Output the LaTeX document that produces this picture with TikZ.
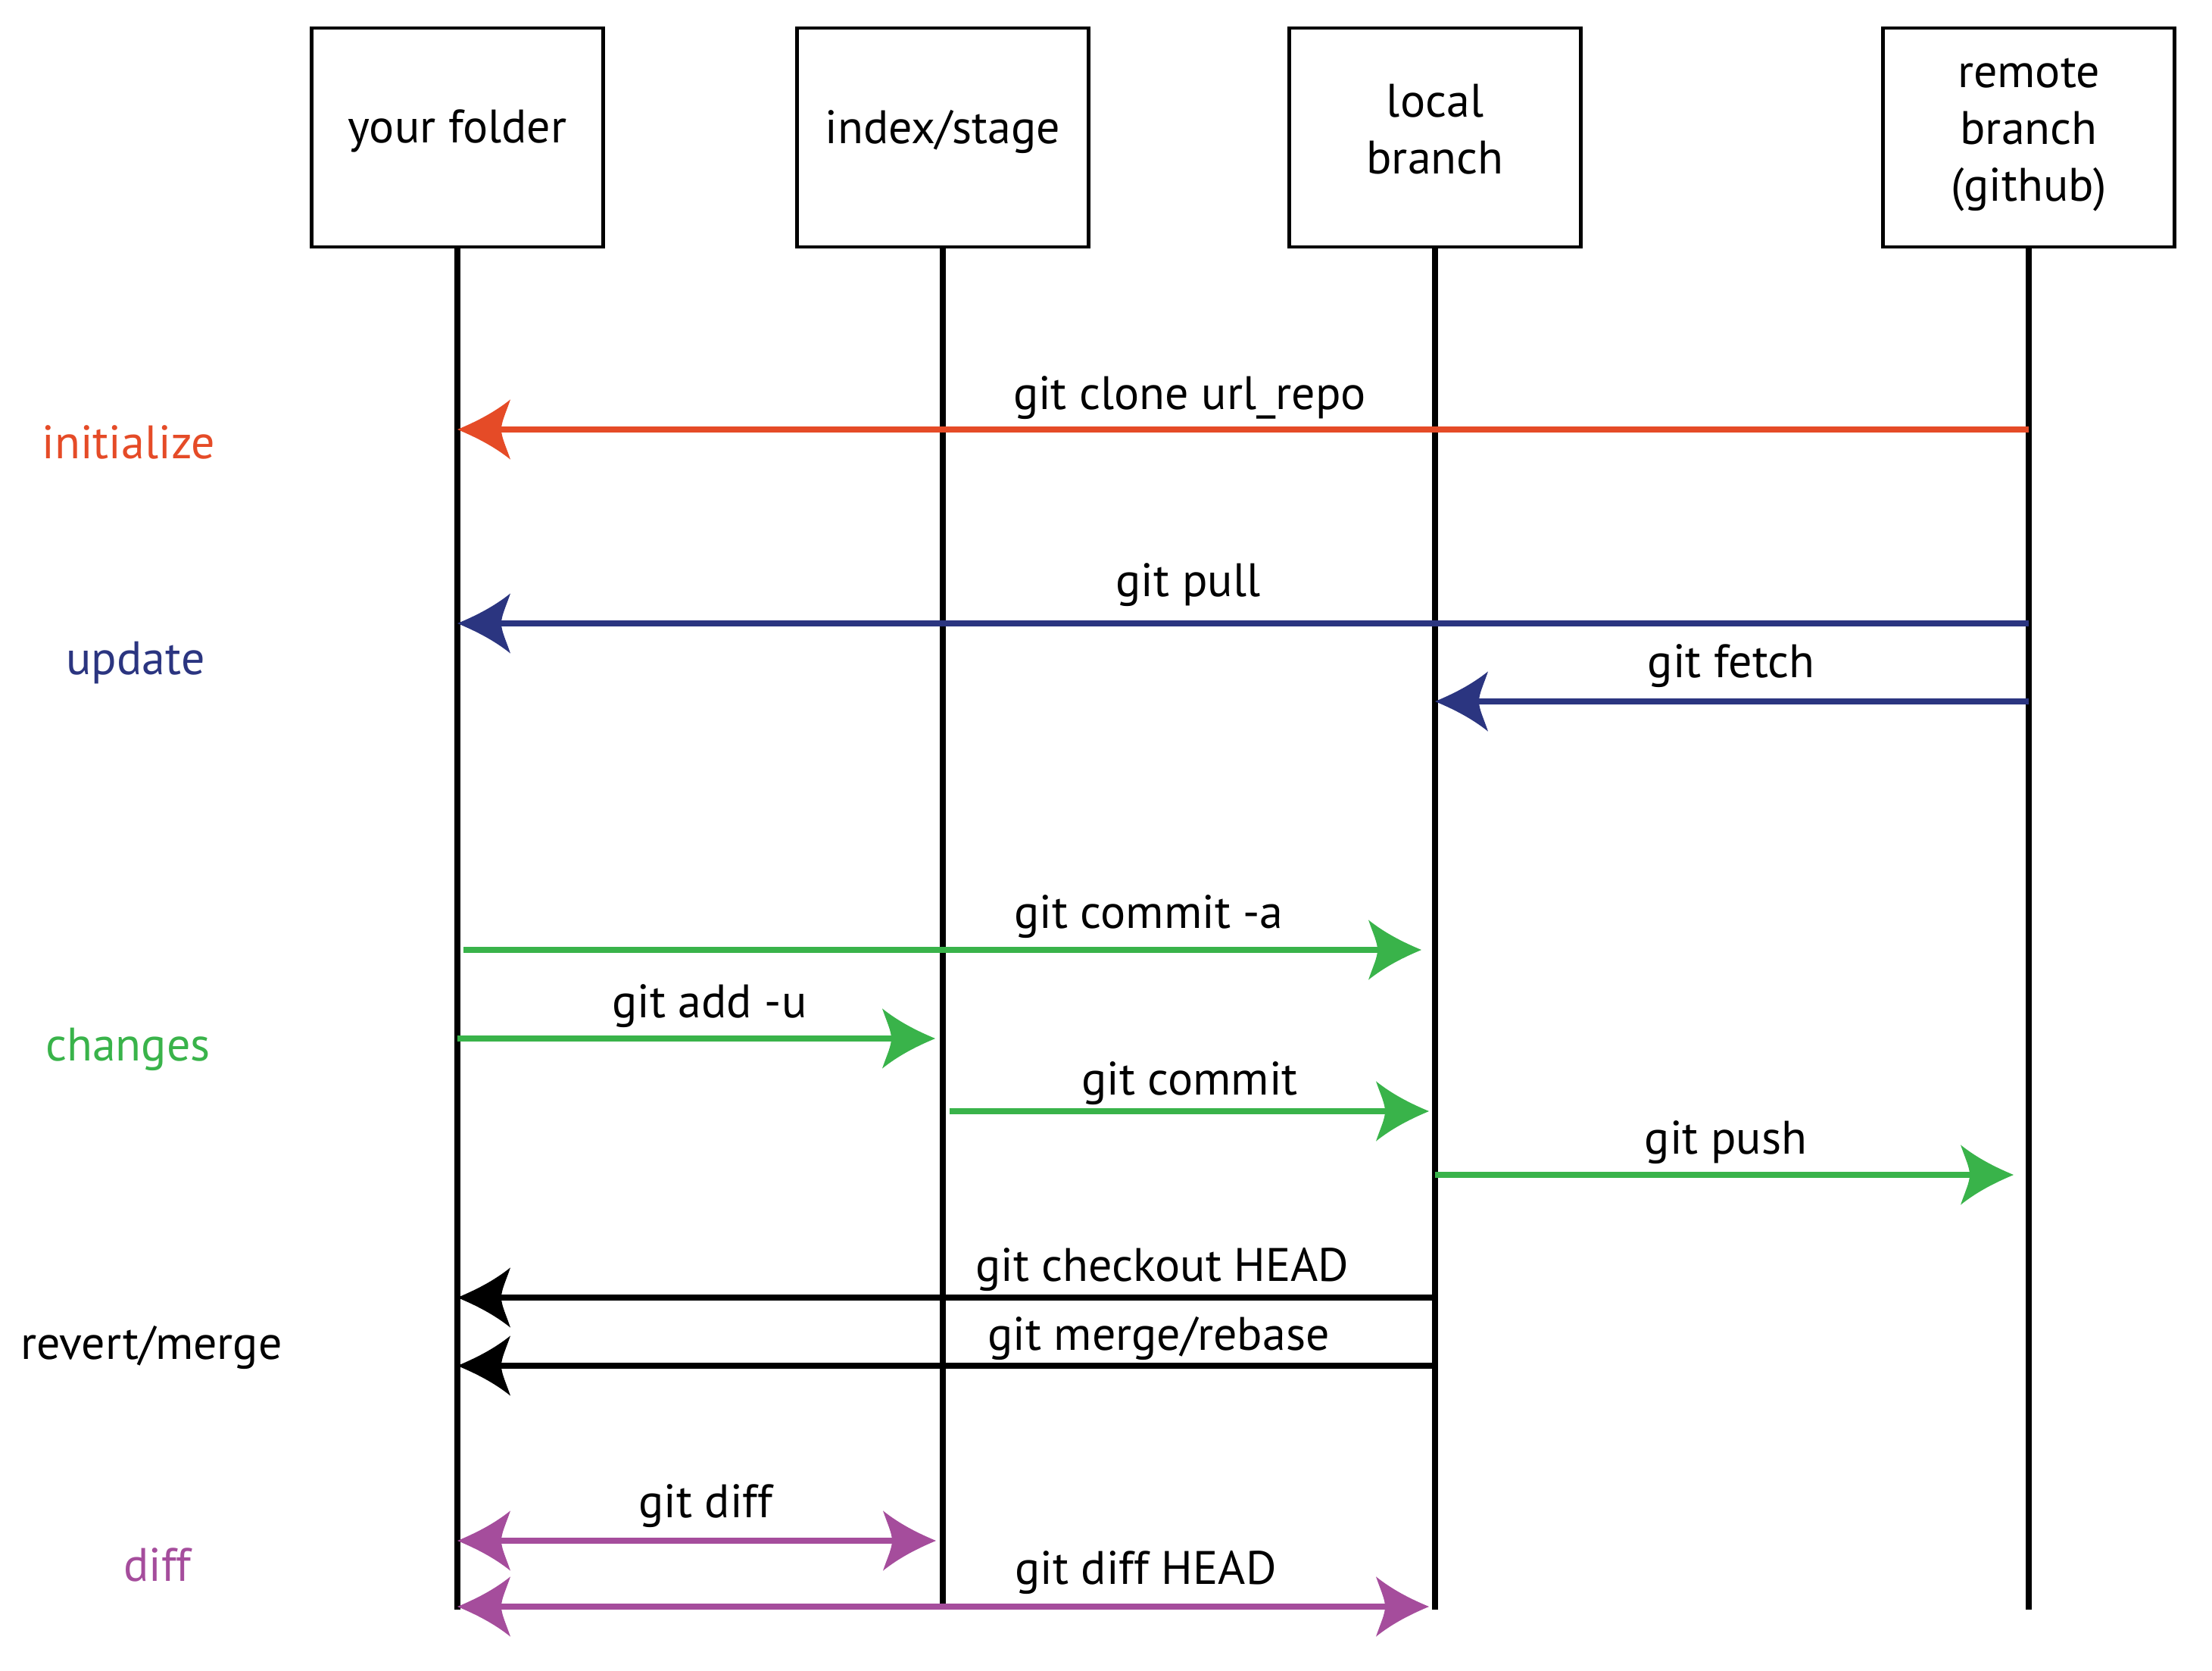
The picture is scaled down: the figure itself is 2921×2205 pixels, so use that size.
\documentclass[tikz,border=0pt]{standalone}
\usepackage{fontspec}
\setmainfont{PT Sans}
\usetikzlibrary{arrows.meta}
\definecolor{cinit}{HTML}{E54B27}
\definecolor{cupd}{HTML}{2B3580}
\definecolor{cchg}{HTML}{39B34A}
\definecolor{cdiff}{HTML}{A54D9C}
\pgfdeclarearrow{
  name=Barb,
  setup code={
    \pgfarrowssettipend{0pt}
    \pgfarrowssetlineend{-12pt}
    \pgfarrowssetvisualbackend{-14.5pt}
    \pgfarrowssetbackend{-17.5pt}
    \pgfarrowshullpoint{0pt}{0pt}
    \pgfarrowsupperhullpoint{-17.5pt}{9.9pt}
  },
  drawing code={
    \pgfpathmoveto{\pgfqpoint{0pt}{0pt}}
    \pgfpathcurveto{\pgfqpoint{-6pt}{2.5pt}}{\pgfqpoint{-12pt}{5.5pt}}{\pgfqpoint{-17.5pt}{9.9pt}}
    \pgfpathcurveto{\pgfqpoint{-16pt}{5.5pt}}{\pgfqpoint{-14.5pt}{2.5pt}}{\pgfqpoint{-14.5pt}{0pt}}
    \pgfpathcurveto{\pgfqpoint{-14.5pt}{-2.5pt}}{\pgfqpoint{-16pt}{-5.5pt}}{\pgfqpoint{-17.5pt}{-9.9pt}}
    \pgfpathcurveto{\pgfqpoint{-12pt}{-5.5pt}}{\pgfqpoint{-6pt}{-2.5pt}}{\pgfqpoint{0pt}{0pt}}
    \pgfpathclose
    \pgfusepathqfill
  }
}
\tikzset{
  box/.style={draw, line width=1.2pt, minimum width=96.25pt, minimum height=72.25pt, inner sep=0pt, align=center},
  life/.style={line width=2.1pt},
  msg/.style={line width=1.85pt},
  lbl/.style={anchor=base, inner sep=0pt},
  every node/.style={font=\fontsize{15.5}{18.75}\selectfont}
}
\begin{document}
\begin{tikzpicture}[x=0.25pt, y=-0.25pt]
\useasboundingbox (0,0) rectangle (2921,2205);
% participants
\node[box, text depth=7.2pt] (b1) at (604,181.5) {your folder};
\node[box, text depth=7.2pt] (b2) at (1245,181.5) {index/stage};
\node[box, text depth=5.6pt] (b3) at (1895,181.5) {local\\branch};
\node[box, text depth=5.3pt] (b4) at (2679,181.5) {remote\\branch\\(github)};
% lifeline ends
\coordinate (e1) at (604,2125);
\coordinate (e2) at (1245,2125);
\coordinate (e3) at (1895,2125);
\coordinate (e4) at (2679,2125);
\draw[life] (b1.south) -- (e1);
\draw[life] (b2.south) -- (e2);
\draw[life] (b3.south) -- (e3);
\draw[life] (b4.south) -- (e4);
% message levels
\coordinate (yclone) at (0,567);
\coordinate (ypull) at (0,823);
\coordinate (yfetch) at (0,926);
\coordinate (ycoma) at (0,1254);
\coordinate (yadd) at (0,1371);
\coordinate (ycom) at (0,1467);
\coordinate (ypush) at (0,1551);
\coordinate (ychk) at (0,1713);
\coordinate (ymrg) at (0,1803);
\coordinate (ydiff) at (0,2034);
\coordinate (ydiffh) at (0,2121);
% initialize
\draw[msg, color=cinit, -Barb] (b4 |- yclone) -- (b1 |- yclone);
% update
\draw[msg, color=cupd, -Barb] (b4 |- ypull) -- (b1 |- ypull);
\draw[msg, color=cupd, -Barb] (b4 |- yfetch) -- (b3 |- yfetch);
% changes
\draw[msg, color=cchg, -Barb, shorten <=2pt, shorten >=4.5pt] (b1 |- ycoma) -- (b3 |- ycoma);
\draw[msg, color=cchg, -Barb, shorten >=2.5pt] (b1 |- yadd) -- (b2 |- yadd);
\draw[msg, color=cchg, -Barb, shorten <=2.25pt, shorten >=2pt] (b2 |- ycom) -- (b3 |- ycom);
\draw[msg, color=cchg, -Barb, shorten >=5pt] (b3 |- ypush) -- (b4 |- ypush);
% revert/merge
\draw[msg, color=black, -Barb] (b3 |- ychk) -- (b1 |- ychk);
\draw[msg, color=black, -Barb] (b3 |- ymrg) -- (b1 |- ymrg);
% diff
\draw[msg, color=cdiff, Barb-Barb, shorten >=2.25pt] (b1 |- ydiff) -- (b2 |- ydiff);
\draw[msg, color=cdiff, Barb-Barb, shorten >=2pt] (b1 |- ydiffh) -- (b3 |- ydiffh);
% message labels
\node[lbl] (tclone) at (1571,540) {git clone url\_repo};
\node[lbl] (tpull) at (1569,787) {git pull};
\node[lbl] (tfetch) at (2286,894) {git fetch};
\node[lbl] (tcoma) at (1517,1225) {git commit -a};
\node[lbl] (tadd) at (937,1343) {git add -u};
\node[lbl] (tcom) at (1571,1445) {git commit};
\node[lbl] (tpush) at (2279,1523) {git push};
\node[lbl] (tchk) at (1535,1691) {git checkout HEAD};
\node[lbl] (tmrg) at (1530,1782) {git merge/rebase};
\node[lbl] (tdiff) at (932,2003) {git diff};
\node[lbl] (tdiffh) at (1513,2091) {git diff HEAD};
% group labels
\node[lbl, text=cinit] (ginit) at (170,605) {initialize};
\node[lbl, text=cupd] (gupd) at (179,890) {update};
\node[lbl, text=cchg] (gchg) at (169,1400) {changes};
\node[lbl, text=black] (grev) at (200,1794) {revert/merge};
\node[lbl, text=cdiff] (gdiff) at (208,2087) {diff};
\end{tikzpicture}
\end{document}
